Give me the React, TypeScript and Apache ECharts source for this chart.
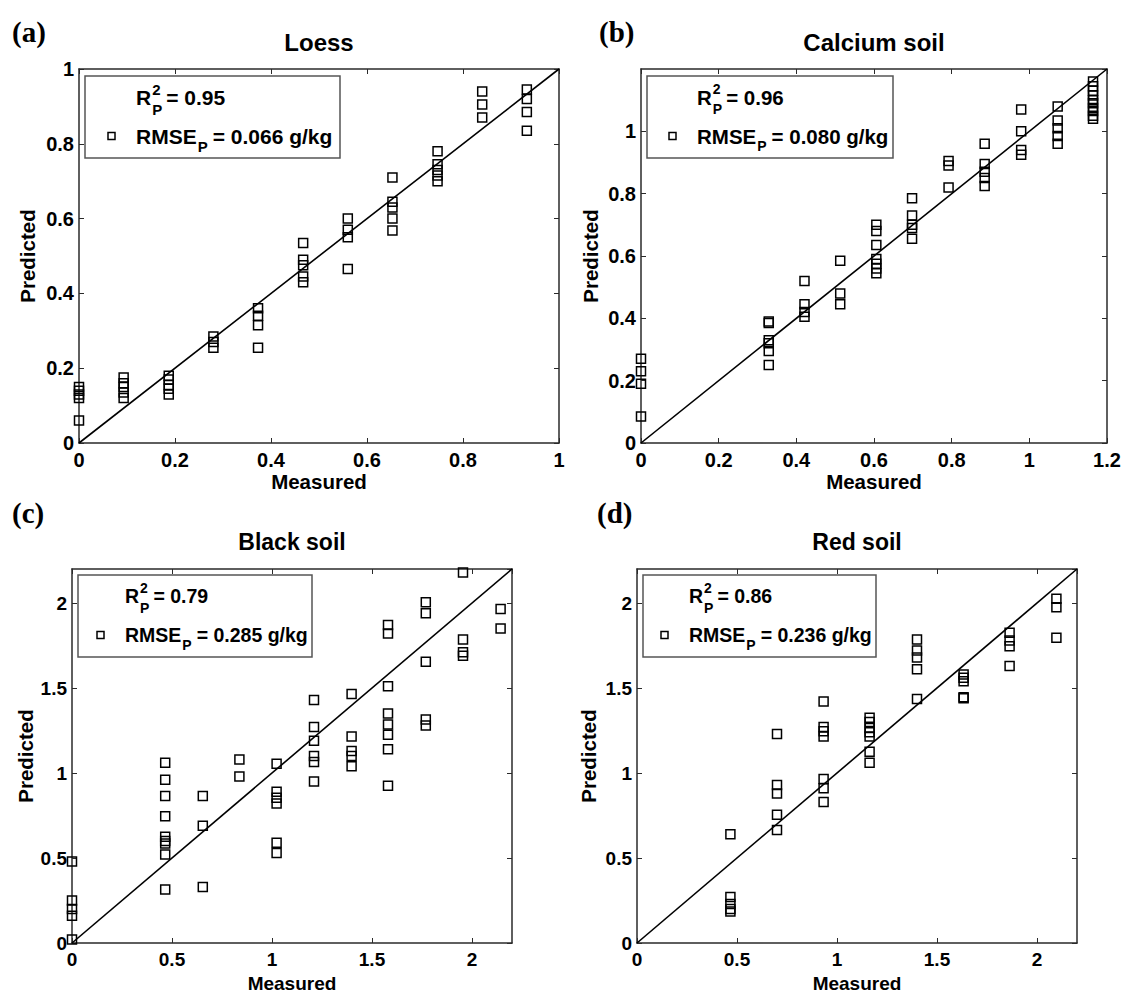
import React, { useEffect, useRef } from 'react';
import * as echarts from 'echarts';

// ---------------- DATA ----------------
const titles = ['Loess', 'Calcium soil', 'Black soil', 'Red soil'];
const panelLetters = ['(a)', '(b)', '(c)', '(d)'];
const r2Values = ['0.95', '0.96', '0.79', '0.86'];
const rmseValues = ['0.066', '0.080', '0.285', '0.236'];

const loessMeasured = [0, 0.093, 0.187, 0.28, 0.373, 0.467, 0.56, 0.653, 0.747, 0.84, 0.933];
const loessPredicted = [
  [0.15, 0.14, 0.13, 0.12, 0.06],
  [0.175, 0.16, 0.15, 0.135, 0.12],
  [0.18, 0.17, 0.155, 0.145, 0.13],
  [0.285, 0.27, 0.255],
  [0.36, 0.34, 0.315, 0.255],
  [0.535, 0.49, 0.475, 0.445, 0.43],
  [0.6, 0.57, 0.55, 0.465],
  [0.71, 0.645, 0.63, 0.6, 0.568],
  [0.78, 0.745, 0.73, 0.715, 0.7],
  [0.94, 0.905, 0.87],
  [0.945, 0.92, 0.885, 0.835],
];

const calciumMeasured = [0, 0.329, 0.421, 0.513, 0.606, 0.698, 0.792, 0.885, 0.979, 1.073, 1.164];
const calciumPredicted = [
  [0.27, 0.23, 0.19, 0.085],
  [0.39, 0.385, 0.33, 0.32, 0.295, 0.25],
  [0.52, 0.445, 0.42, 0.405],
  [0.585, 0.48, 0.445],
  [0.7, 0.68, 0.635, 0.59, 0.575, 0.56, 0.545],
  [0.785, 0.73, 0.7, 0.69, 0.655],
  [0.905, 0.89, 0.82],
  [0.96, 0.895, 0.87, 0.85, 0.825],
  [1.07, 1.0, 0.94, 0.925],
  [1.08, 1.035, 1.01, 0.985, 0.96],
  [1.16, 1.145, 1.13, 1.115, 1.1, 1.09, 1.075, 1.065, 1.05, 1.04],
];

const blackMeasured = [0, 0.466, 0.654, 0.837, 1.023, 1.21, 1.398, 1.58, 1.769, 1.955, 2.143];
const blackPredicted = [
  [0.48, 0.25, 0.2, 0.16, 0.02],
  [1.06, 0.96, 0.865, 0.745, 0.625, 0.6, 0.585, 0.52, 0.315],
  [0.865, 0.69, 0.33],
  [1.08, 0.98],
  [1.055, 0.89, 0.855, 0.82, 0.59, 0.53],
  [1.43, 1.27, 1.19, 1.1, 1.065, 0.95],
  [1.465, 1.215, 1.13, 1.1, 1.04],
  [1.87, 1.82, 1.51, 1.35, 1.285, 1.225, 1.14, 0.925],
  [2.005, 1.94, 1.655, 1.315, 1.28],
  [2.18, 1.785, 1.71, 1.69],
  [1.965, 1.85],
];

const redMeasured = [0.467, 0.7, 0.933, 1.163, 1.4, 1.633, 1.863, 2.097];
const redPredicted = [
  [0.64, 0.27, 0.23, 0.2, 0.185],
  [1.23, 0.93, 0.88, 0.755, 0.665],
  [1.42, 1.27, 1.245, 1.215, 0.965, 0.91, 0.83],
  [1.325, 1.3, 1.265, 1.24, 1.215, 1.125, 1.06],
  [1.785, 1.72, 1.68, 1.61, 1.435],
  [1.58, 1.56, 1.54, 1.445, 1.44],
  [1.825, 1.78, 1.745, 1.63],
  [2.025, 1.975, 1.795],
];

const measuredSets = [loessMeasured, calciumMeasured, blackMeasured, redMeasured];
const predictedSets = [loessPredicted, calciumPredicted, blackPredicted, redPredicted];

// axis ranges
const axisMax = [1, 1.2, 2.2, 2.2];
const axisInterval = [0.2, 0.2, 0.5, 0.5];
const showMaxX = [true, true, false, false];
const showMaxY = [true, false, false, false];

// ---------------- LAYOUT ----------------
const grids = [
  { left: 79, top: 69, width: 480, height: 374 },
  { left: 641, top: 69, width: 466, height: 374 },
  { left: 72, top: 569, width: 440, height: 374 },
  { left: 637, top: 569, width: 440, height: 374 },
];
const legendBoxes = [
  { x: 85, y: 76, w: 255, h: 82, tx: 51, fz: 21 },
  { x: 647, y: 76, w: 246, h: 82, tx: 50, fz: 20.5 },
  { x: 78, y: 575, w: 234, h: 82, tx: 47, fz: 19.5 },
  { x: 643, y: 575, w: 233, h: 82, tx: 46, fz: 19.5 },
];
const letterPos = [
  { x: 12, y: 32 },
  { x: 599, y: 32 },
  { x: 12, y: 513 },
  { x: 597, y: 513 },
];
const predictedX = [27, 590, 25, 588];
const rowStyle = [
  { titleY: 42, measY: 481, titleFz: 24, tickFz: 20, nameFz: 20.5 },
  { titleY: 42, measY: 481, titleFz: 24, tickFz: 20, nameFz: 20.5 },
  { titleY: 542, measY: 983, titleFz: 23, tickFz: 19, nameFz: 19 },
  { titleY: 542, measY: 983, titleFz: 23, tickFz: 19, nameFz: 19 },
];

const SANS = '"Liberation Sans", Arial, Helvetica, sans-serif';
const SERIF = '"Liberation Serif", "Times New Roman", serif';
const AXIS_COLOR = '#2a2a2a';

let measureCtx: CanvasRenderingContext2D | null = null;
function textWidth(text: string, size: number) {
  if (!measureCtx) measureCtx = document.createElement('canvas').getContext('2d');
  if (!measureCtx) return text.length * size * 0.55;
  measureCtx.font = `bold ${size}px ${SANS}`;
  return measureCtx.measureText(text).width;
}

function txt(x: number, y: number, text: string, size: number, opts: any = {}) {
  const align = opts.align || 'left';
  const vAlign = opts.vAlign || 'middle';
  return {
    type: 'text',
    x,
    y,
    rotation: opts.rotation || 0,
    z: 100,
    style: {
      text,
      fill: '#000',
      fontSize: size,
      fontWeight: 'bold',
      fontFamily: opts.family || SANS,
      align,
      verticalAlign: vAlign,
      textAlign: align,
      textVerticalAlign: vAlign,
    },
  };
}

function buildOption() {
  const xAxes: any[] = [];
  const yAxes: any[] = [];
  const series: any[] = [];
  const graphics: any[] = [];

  grids.forEach((g, i) => {
    const rs = rowStyle[i];
    const labelBase = {
      color: '#000',
      fontFamily: SANS,
      fontWeight: 'bold',
      fontSize: rs.tickFz,
    };
    const axisLine = { show: true, onZero: false, lineStyle: { color: AXIS_COLOR, width: 1.5 } };
    const axisTick = { show: true, inside: true, length: 5, lineStyle: { color: AXIS_COLOR, width: 1 } };
    const common = {
      type: 'value',
      gridIndex: i,
      min: 0,
      max: axisMax[i],
      interval: axisInterval[i],
      splitLine: { show: false },
      axisLine,
      axisTick,
    };
    xAxes.push({
      ...common,
      position: 'bottom',
      axisLabel: { ...labelBase, margin: 7, showMaxLabel: showMaxX[i], showMinLabel: true },
    });
    xAxes.push({ ...common, position: 'top', axisLabel: { show: false } });
    yAxes.push({
      ...common,
      position: 'left',
      axisLabel: { ...labelBase, margin: 5, showMaxLabel: showMaxY[i], showMinLabel: true },
    });
    yAxes.push({ ...common, position: 'right', axisLabel: { show: false } });

    const pts: number[][] = [];
    measuredSets[i].forEach((m, k) => {
      predictedSets[i][k].forEach((p) => pts.push([m, p]));
    });

    series.push({
      type: 'line',
      xAxisIndex: 2 * i,
      yAxisIndex: 2 * i,
      data: [
        [0, 0],
        [axisMax[i], axisMax[i]],
      ],
      showSymbol: false,
      symbol: 'none',
      lineStyle: { color: '#000', width: 1.6 },
      silent: true,
      z: 2,
    });
    series.push({
      type: 'scatter',
      xAxisIndex: 2 * i,
      yAxisIndex: 2 * i,
      data: pts,
      symbol: 'rect',
      symbolSize: 9,
      clip: false,
      itemStyle: { color: 'rgba(0,0,0,0)', borderColor: '#000', borderWidth: 1.5, opacity: 1 },
      z: 3,
    });

    // title
    graphics.push(txt(g.left + g.width / 2, rs.titleY, titles[i], rs.titleFz, { align: 'center' }));
    // axis names
    graphics.push(txt(g.left + g.width / 2, rs.measY, 'Measured', rs.nameFz, { align: 'center' }));
    graphics.push(
      txt(predictedX[i], g.top + g.height / 2, 'Predicted', 20.5, { align: 'center', rotation: Math.PI / 2 })
    );
    // panel letter
    graphics.push(txt(letterPos[i].x, letterPos[i].y, panelLetters[i], 29, { family: SERIF }));

    // legend box
    const b = legendBoxes[i];
    graphics.push({
      type: 'rect',
      z: 90,
      shape: { x: b.x, y: b.y, width: b.w, height: b.h },
      style: { fill: '#fff', stroke: '#555', lineWidth: 1.5 },
    });
    const fz = b.fz;
    const sfz = Math.round(fz * 0.7);
    const tx = b.x + b.tx;
    const row1 = b.y + 21;
    const row2 = b.y + 60;
    // R^2_P = value
    graphics.push(txt(tx, row1, 'R', fz));
    const sx1 = tx + textWidth('R', fz) + 1;
    graphics.push(txt(sx1, row1 - 8, '2', sfz));
    graphics.push(txt(sx1, row1 + 12, 'P', sfz));
    const after1 = sx1 + Math.max(textWidth('2', sfz), textWidth('P', sfz)) + 4;
    graphics.push(txt(after1, row1, '= ' + r2Values[i], fz));
    // marker + RMSE_P = value g/kg
    graphics.push({
      type: 'rect',
      z: 100,
      shape: { x: b.x + b.tx - 28, y: row2 - 3.5, width: 7, height: 7 },
      style: { fill: 'none', stroke: '#000', lineWidth: 1.5 },
    });
    graphics.push(txt(tx, row2, 'RMSE', fz));
    const sx2 = tx + textWidth('RMSE', fz) + 1;
    graphics.push(txt(sx2, row2 + 10, 'P', sfz));
    const after2 = sx2 + textWidth('P', sfz) + 5;
    graphics.push(txt(after2, row2, '= ' + rmseValues[i] + ' g/kg', fz));
  });

  return {
    animation: false,
    backgroundColor: '#fff',
    grid: grids.map((g) => ({ ...g, containLabel: false, show: false })),
    xAxis: xAxes,
    yAxis: yAxes,
    series,
    graphic: { elements: graphics },
  };
}

export default function App() {
  const ref = useRef<HTMLDivElement>(null);
  useEffect(() => {
    if (!ref.current) return;
    const chart = echarts.init(ref.current, null, { renderer: 'svg' });
    chart.setOption(buildOption() as any);
    return () => chart.dispose();
  }, []);
  return (
    <div
      ref={ref}
      style={{ position: 'absolute', left: 0, top: 0, width: 1141, height: 997, background: '#fff' }}
    />
  );
}
